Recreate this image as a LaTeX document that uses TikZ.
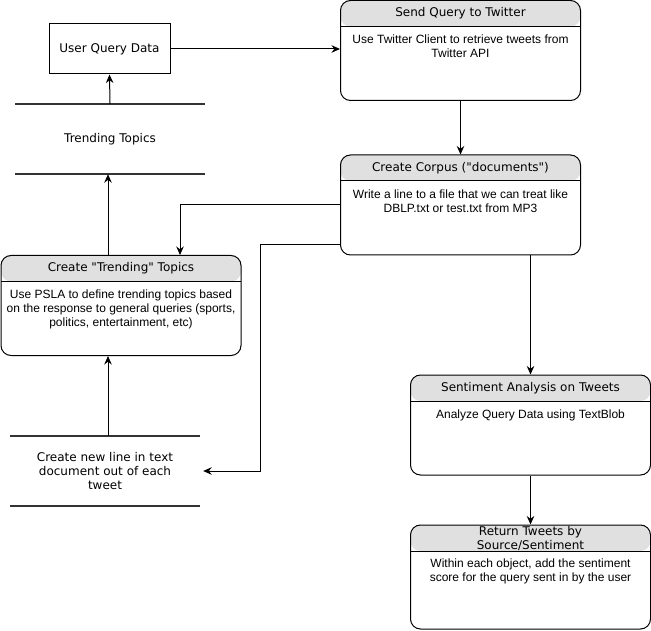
\documentclass[tikz,border=0pt]{standalone}
\usepackage{fontspec}
\setmainfont{Liberation Sans}
\newfontfamily\verd{DejaVu Sans}
\usetikzlibrary{arrows.meta}
\definecolor{hdrgray}{HTML}{E0E0E0}
\definecolor{storegray}{HTML}{333333}

\begin{document}
\begin{tikzpicture}[x=1pt, y=-1pt,
    lane/.style={draw, line width=1pt, rounded corners=10pt, minimum width=240pt, minimum height=100pt, inner sep=0pt,
        path picture={\fill[hdrgray] (path picture bounding box.north west) rectangle ([yshift=-26pt]path picture bounding box.north east);
            \draw[line width=1pt] ([yshift=-26pt]path picture bounding box.north west) -- ([yshift=-26pt]path picture bounding box.north east);}},
    head/.style={font=\verd\fontsize{12}{14}\selectfont, align=center, inner sep=0pt},
    body/.style={font=\fontsize{12}{14}\selectfont, align=center, inner sep=0pt, anchor=north},
    store/.style={minimum width=190pt, minimum height=70pt, inner sep=0pt, align=center, font=\verd\fontsize{12}{14}\selectfont},
    storeline/.style={draw=storegray, line width=2pt},
    arr/.style={draw, line width=1pt, -{Stealth[length=8.5pt, width=7.5pt]}}]
    \useasboundingbox (0,0) rectangle (651,631);
    \node[draw, line width=1pt, minimum width=121pt, minimum height=50pt, font=\verd\fontsize{12}{14}\selectfont] (uqd) at (109.5,49) {User Query Data};
    \node[store] (tt) at (110,139) {Trending Topics};
    \draw[storeline] (tt.north west) -- (tt.north east);
    \draw[storeline] (tt.south west) -- (tt.south east);
    \node[store] (nl) at (105,471) {Create new line in text\\document out of each\\tweet};
    \draw[storeline] (nl.north west) -- (nl.north east);
    \draw[storeline] (nl.south west) -- (nl.south east);
    \node[lane] (send) at (460.5,50.5) {};
    \node[head] (sendh) at ([yshift=-13.5pt]send.north) {Send Query to Twitter};
    \node[body] (sendb) at ([yshift=-35pt]send.north) {Use Twitter Client to retrieve tweets from\\Twitter API};
    \node[lane] (corpus) at (460.5,205) {};
    \node[head] (corpush) at ([yshift=-13.5pt]corpus.north) {Create Corpus ("documents")};
    \node[body] (corpusb) at ([yshift=-35pt]corpus.north) {Write a line to a file that we can treat like\\DBLP.txt or test.txt from MP3};
    \node[lane] (ctt) at (121,305.5) {};
    \node[head] (ctth) at ([yshift=-13.5pt]ctt.north) {Create "Trending" Topics};
    \node[body] (cttb) at ([yshift=-35pt]ctt.north) {Use PSLA to define trending topics based\\on the response to general queries (sports,\\politics, entertainment, etc)};
    \node[lane] (senti) at (530.5,425) {};
    \node[head] (sentih) at ([yshift=-13.5pt]senti.north) {Sentiment Analysis on Tweets};
    \node[body] (sentib) at ([yshift=-35pt]senti.north) {Analyze Query Data using TextBlob};
    \node[lane, minimum height=104pt] (ret) at (530.5,577) {};
    \node[head] (reth) at ([yshift=-13.5pt]ret.north) {Return Tweets by\\Source/Sentiment};
    \node[body] (retb) at ([yshift=-34pt]ret.north) {Within each object, add the sentiment\\score for the query sent in by the user};
    \coordinate (elbow) at (260,471);
    \draw[arr] (uqd.east) -- (uqd.east -| send.west);
    \draw[arr] (send.south) -- (corpus.north);
    \draw[arr] (tt.north) -- (uqd.south);
    \draw[arr] ([xshift=-13pt]ctt.north) -- ([xshift=-13pt]ctt.north |- tt.south);
    \draw[arr] (corpus.west) -| ([xshift=59pt]ctt.north);
    \draw[arr] ([yshift=-40pt]corpus.west) -| (elbow) -- ([xshift=3pt]nl.east);
    \draw[arr] ([xshift=-13pt]ctt.south |- nl.north) -- ([xshift=-13pt]ctt.south);
    \draw[arr] (senti.north |- corpus.south) -- (senti.north);
    \draw[arr] (senti.south) -- (ret.north);
\end{tikzpicture}
\end{document}
